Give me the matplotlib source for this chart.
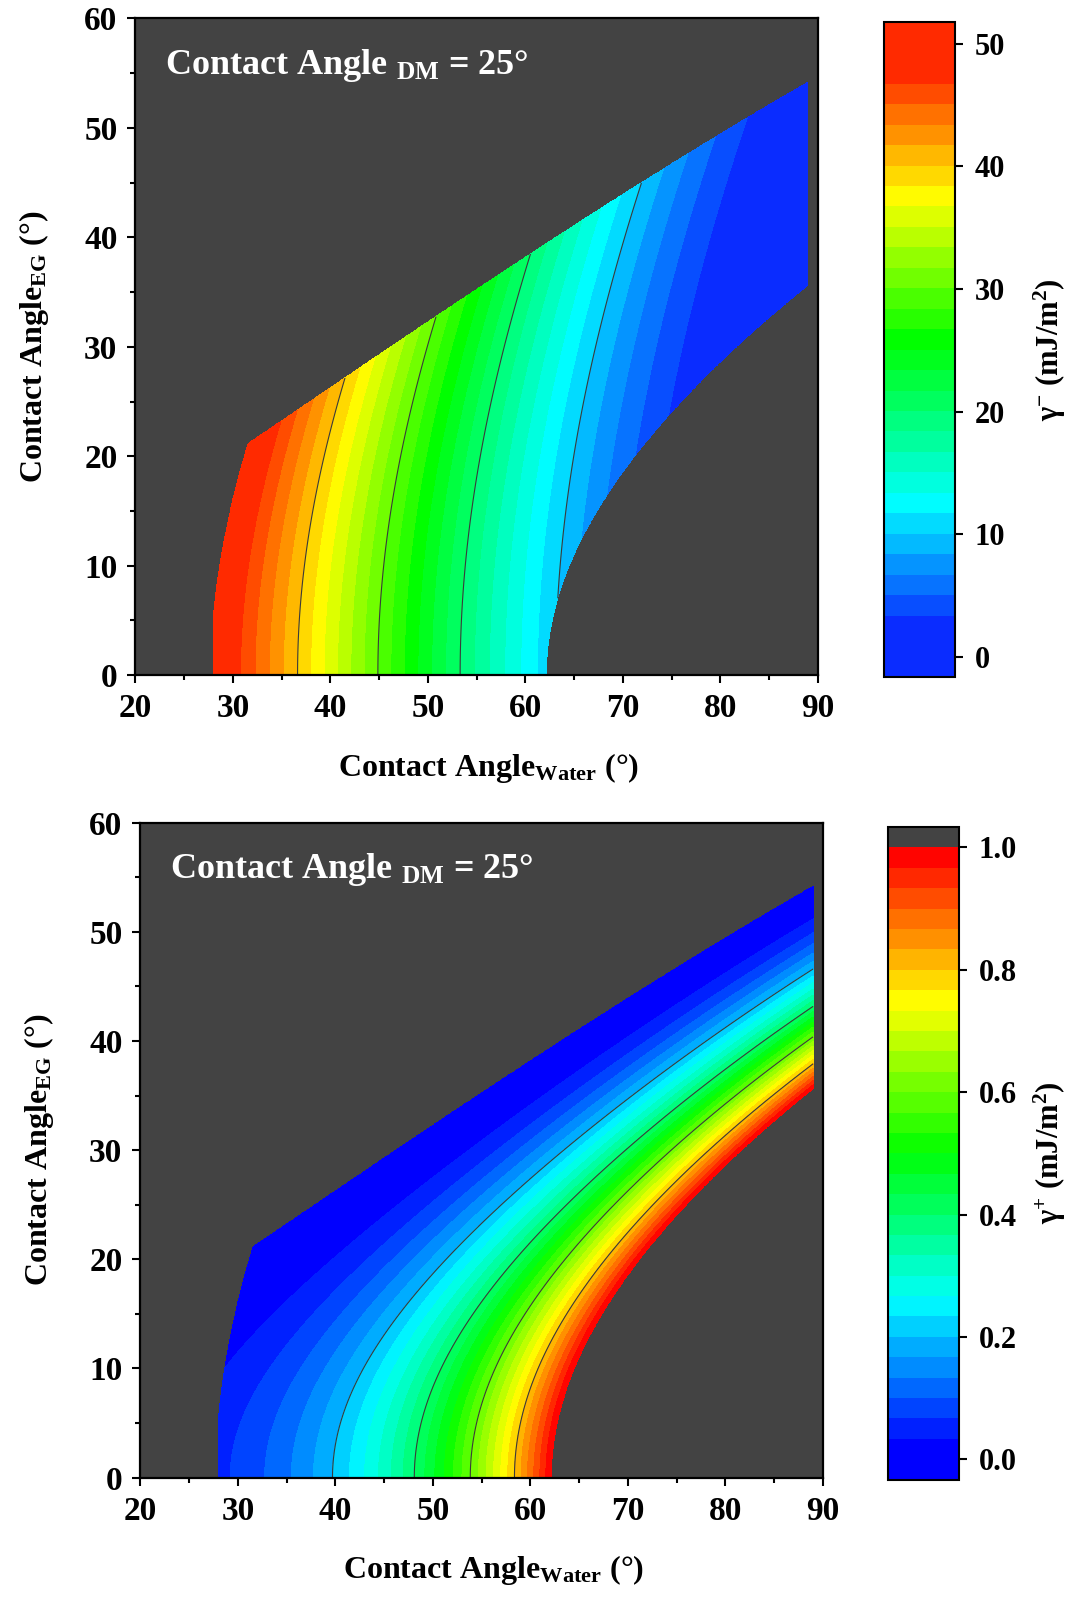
import numpy as np
import matplotlib
matplotlib.use('Agg')
import matplotlib.pyplot as plt
from matplotlib.colors import LinearSegmentedColormap, Normalize

plt.rcParams['font.family'] = ['Liberation Serif', 'DejaVu Serif']
plt.rcParams['font.weight'] = 'bold'
plt.rcParams['axes.labelweight'] = 'bold'
plt.rcParams['mathtext.fontset'] = 'custom'
plt.rcParams['mathtext.rm'] = 'Liberation Serif:bold'
plt.rcParams['mathtext.bf'] = 'Liberation Serif:bold'
plt.rcParams['mathtext.it'] = 'Liberation Serif:bold'
plt.rcParams['mathtext.default'] = 'rm'

# probe liquids: surface tension components (mJ/m2), van Oss-Chaudhury-Good
liquids = ['Water', 'EG', 'DM']
gamma_tot = [72.8, 48.0, 50.8]
gamma_lw = [21.8, 29.0, 50.8]
gamma_plus = [25.5, 1.92, 0.0]
gamma_minus = [25.5, 47.0, 0.0]

theta_dm = 25.0                 # fixed diiodomethane contact angle
water_range = [28.0, 89.0]      # water contact angles covered by the map
eg_range = [0.0, 60.0]
gplus_max = 1.0                 # mapped surface: 0 <= gamma+ <= 1
gminus_max = 50.0               #                 0 <= gamma- <= 50

# contour levels / colour bars
minus_levels = np.linspace(-1.65, 51.75, 33)
minus_lines = [10, 20, 30, 40]
minus_ticks = [0, 10, 20, 30, 40, 50]
plus_levels = np.linspace(-1 / 30, 1.0, 32)
plus_lines = [0.2, 0.4, 0.6, 0.8]
plus_ticks = [0.0, 0.2, 0.4, 0.6, 0.8, 1.0]

bg = '#434343'
line_col = '#3a3a3a'

# ---- solve the two-liquid system on a grid of (water, EG) angles ----
lw_s = (gamma_tot[2] * (1 + np.cos(np.radians(theta_dm)))) ** 2 / (4 * gamma_lw[2])
tw, te = np.meshgrid(np.arange(water_range[0], water_range[1] + 1e-6, 0.05),
                     np.arange(eg_range[0], eg_range[1] + 1e-6, 0.05))
rw = gamma_tot[0] * (1 + np.cos(np.radians(tw))) / 2 - np.sqrt(lw_s * gamma_lw[0])
re = gamma_tot[1] * (1 + np.cos(np.radians(te))) / 2 - np.sqrt(lw_s * gamma_lw[1])
sm_w, sp_w = np.sqrt(gamma_minus[0]), np.sqrt(gamma_plus[0])
sm_e, sp_e = np.sqrt(gamma_minus[1]), np.sqrt(gamma_plus[1])
det = sm_w * sp_e - sp_w * sm_e
a = (rw * sp_e - sp_w * re) / det      # sqrt(gamma+ of solid)
b = (sm_w * re - sm_e * rw) / det      # sqrt(gamma- of solid)
gp = a ** 2
gm = b ** 2
bad = (a < 0) | (gp > gplus_max) | (b < 0) | (gm > gminus_max)
gp = np.ma.masked_where(bad, gp)
gm = np.ma.masked_where(bad, gm)

rainbow = ['#0000ff', '#00ffff', '#00ff00', '#ffff00', '#ff0000']
cmap_plus = LinearSegmentedColormap.from_list('rb_plus', rainbow)
cmap_plus.set_over(bg)
cmap_minus = LinearSegmentedColormap.from_list(
    'rb_minus', [(0.0, '#0a2cff'), ((12.5 - 2.5) / 45.1, '#00ffff'),
                 ((25.8 - 2.5) / 45.1, '#00ff00'), ((37.5 - 2.5) / 45.1, '#ffff00'),
                 (1.0, '#ff2a00')])

fig = plt.figure(figsize=(10.70, 15.97), dpi=100)


def style_axes(ax):
    ax.set_facecolor(bg)
    ax.set_xlim(20, 90)
    ax.set_ylim(0, 60)
    ax.set_xticks(range(20, 91, 10))
    ax.set_yticks(range(0, 61, 10))
    ax.set_xticks(range(25, 90, 10), minor=True)
    ax.set_yticks(range(5, 60, 10), minor=True)
    ax.tick_params(which='both', direction='out', top=False, right=False, width=1.5)
    ax.tick_params(which='major', length=6, pad=7, labelsize=24)
    ax.tick_params(which='minor', length=3.5)
    for s in ax.spines.values():
        s.set_linewidth(1.6)
    ax.set_xlabel('Contact Angle$_{Water}$ (°)', fontsize=23, fontweight='bold',
                  labelpad=21)
    ax.xaxis.set_label_coords(0.518, ax.xaxis.label.get_position()[1])
    ax.set_ylabel('Contact Angle$_{EG}$ (°)', fontsize=23, fontweight='bold',
                  labelpad=24)
    ax.text(0.043, 0.915, 'Contact Angle ${}_{DM}$ = 25°', transform=ax.transAxes,
            color='white', fontsize=26, fontweight='bold', va='baseline')


def style_cbar(cb, label, ypos):
    cb.outline.set_linewidth(1.5)
    cb.ax.tick_params(length=6, width=1.5, pad=8, labelsize=22)
    cb.ax.minorticks_off()
    fig.text(0.981, ypos, label, rotation=90, ha='center', va='center',
             fontsize=22, fontweight='bold')


# top: gamma-
ax1 = fig.add_axes([0.1266, 0.5772, 0.6376, 0.4113])
cs1 = ax1.contourf(tw, te, gm, levels=minus_levels, cmap=cmap_minus,
                   norm=Normalize(2.5, 47.6, clip=True))
ax1.contour(tw, te, gm, levels=minus_lines, colors=line_col, linewidths=0.8)
style_axes(ax1)
ax1.xaxis.set_label_coords(0.518, -0.115)
cax1 = fig.add_axes([0.8262, 0.5761, 0.0664, 0.4099])
cb1 = fig.colorbar(cs1, cax=cax1, ticks=minus_ticks)
cb1.ax.set_yticklabels([str(t) for t in minus_ticks])
style_cbar(cb1, '$\\gamma^{-}$ (mJ/m$^{2}$)', 0.781)

# bottom: gamma+
ax2 = fig.add_axes([0.1313, 0.0748, 0.6377, 0.4100])
cs2 = ax2.contourf(tw, te, gp, levels=plus_levels, cmap=cmap_plus, extend='max',
                   norm=Normalize(1 / 60, 0.99, clip=False))
ax2.contour(tw, te, gp, levels=plus_lines, colors=line_col, linewidths=0.8)
style_axes(ax2)
ax2.xaxis.set_label_coords(0.518, -0.115)
cax2 = fig.add_axes([0.8299, 0.0735, 0.0664, 0.4086])
cb2 = fig.colorbar(cs2, cax=cax2, ticks=plus_ticks, extendrect=True, extendfrac=1 / 31)
cb2.ax.set_yticklabels(['%.1f' % t for t in plus_ticks])
style_cbar(cb2, '$\\gamma^{+}$ (mJ/m$^{2}$)', 0.278)

fig.savefig('out.png', dpi=100)
